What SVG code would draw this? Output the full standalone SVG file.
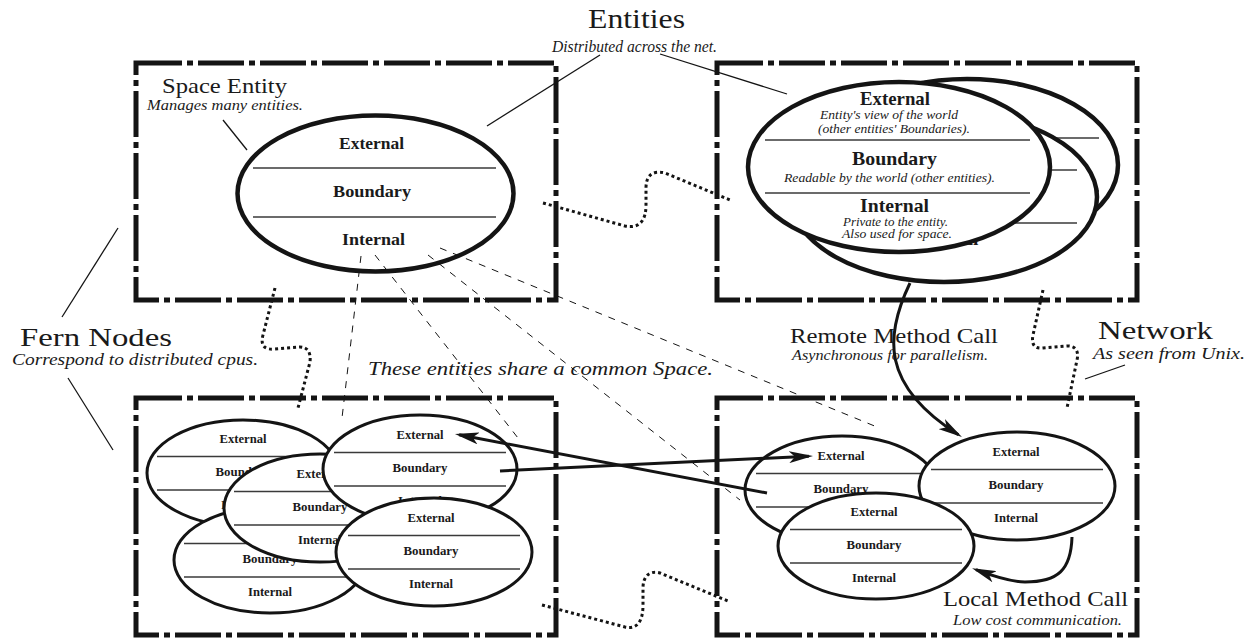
<svg xmlns="http://www.w3.org/2000/svg" width="1259" height="640" viewBox="0 0 1259 640">
<style>
text{font-family:"Liberation Serif","Times New Roman",serif;fill:#1a1a1a}
.i{font-style:italic}
.bd{font-weight:bold}
.box{fill:none;stroke:#141414;stroke-width:5;stroke-dasharray:46 5 6 5}
.eb{fill:#fff;stroke:#141414;stroke-width:4.5}
.es{fill:#fff;stroke:#141414;stroke-width:3}
.sep{stroke:#3a3a3a;stroke-width:1.4}
.lead{stroke:#141414;stroke-width:1.3;fill:none}
.dot{fill:none;stroke:#141414;stroke-width:3;stroke-dasharray:3 3}
.thin{fill:none;stroke:#141414;stroke-width:1;stroke-dasharray:7 7}
.arr{fill:none;stroke:#141414;stroke-width:3;marker-end:url(#ah)}
.sm{font-size:13px;font-weight:bold;text-anchor:middle}
</style>
<defs>
<marker id="ah" viewBox="0 0 20 10" refX="16.5" refY="5" markerWidth="24" markerHeight="12" orient="auto" markerUnits="userSpaceOnUse"><path d="M0,0 L20,5 L0,10 L5,5 Z" fill="#141414"/></marker>
</defs>
<rect width="1259" height="640" fill="#fff"/>

<g id="labels">
<text x="588" y="28" font-size="28" textLength="97" lengthAdjust="spacingAndGlyphs">Entities</text>
<text class="i" x="552" y="52" font-size="16" textLength="165" lengthAdjust="spacingAndGlyphs">Distributed across the net.</text>
<text x="20" y="346" font-size="26" textLength="152" lengthAdjust="spacingAndGlyphs">Fern Nodes</text>
<text class="i" x="12" y="365" font-size="16" textLength="246" lengthAdjust="spacingAndGlyphs">Correspond to distributed cpus.</text>
<text class="i" x="368" y="375" font-size="19" textLength="345" lengthAdjust="spacingAndGlyphs">These entities share a common Space.</text>
<text x="790" y="343" font-size="21" textLength="208" lengthAdjust="spacingAndGlyphs">Remote Method Call</text>
<text class="i" x="792" y="360" font-size="14" textLength="196" lengthAdjust="spacingAndGlyphs">Asynchronous for parallelism.</text>
<text x="1098" y="339" font-size="26" textLength="115" lengthAdjust="spacingAndGlyphs">Network</text>
<text class="i" x="1093" y="359" font-size="16" textLength="152" lengthAdjust="spacingAndGlyphs">As seen from Unix.</text>
</g>

<g id="node-top-left">
<rect class="box" x="136" y="63" width="420" height="237"/>
<text x="162" y="93" font-size="22" textLength="125" lengthAdjust="spacingAndGlyphs">Space Entity</text>
<text class="i" x="147" y="110" font-size="15" textLength="156" lengthAdjust="spacingAndGlyphs">Manages many entities.</text>
<g id="space-entity">
<ellipse class="eb" cx="375.5" cy="193.5" rx="138" ry="78"/>
<line class="sep" x1="253" y1="168" x2="496" y2="168"/>
<line class="sep" x1="253" y1="217" x2="496" y2="217"/>
<text class="bd" x="339" y="149" font-size="17" textLength="65" lengthAdjust="spacingAndGlyphs">External</text>
<text class="bd" x="333" y="197" font-size="17" textLength="78" lengthAdjust="spacingAndGlyphs">Boundary</text>
<text class="bd" x="342" y="245" font-size="17" textLength="63" lengthAdjust="spacingAndGlyphs">Internal</text>
</g>
</g>

<g id="node-top-right">
<rect class="box" x="717" y="63" width="420" height="237"/>
<g id="entity-back">
<ellipse class="eb" cx="967" cy="165" rx="151" ry="86"/>
<line class="sep" x1="835" y1="138" x2="1099" y2="138"/>
<line class="sep" x1="835" y1="191" x2="1099" y2="191"/>
</g>
<g id="entity-middle">
<ellipse class="eb" cx="944" cy="197" rx="153" ry="85"/>
<line class="sep" x1="812" y1="170" x2="1077" y2="170"/>
<line class="sep" x1="812" y1="223" x2="1077" y2="223"/>
<text class="bd" x="944" y="245" font-size="19" text-anchor="middle" textLength="69" lengthAdjust="spacingAndGlyphs">Internal</text>
</g>
<g id="entity-front">
<ellipse class="eb" cx="899" cy="167" rx="151" ry="85"/>
<line class="sep" x1="765" y1="140" x2="1030" y2="140"/>
<line class="sep" x1="765" y1="193" x2="1030" y2="193"/>
<text class="bd" x="860" y="105" font-size="19" textLength="70" lengthAdjust="spacingAndGlyphs">External</text>
<text class="i" x="820" y="119" font-size="12" textLength="138" lengthAdjust="spacingAndGlyphs">Entity's view of the world</text>
<text class="i" x="818" y="133" font-size="12" textLength="152" lengthAdjust="spacingAndGlyphs">(other entities' Boundaries).</text>
<text class="bd" x="852" y="165" font-size="19" textLength="85" lengthAdjust="spacingAndGlyphs">Boundary</text>
<text class="i" x="784" y="182" font-size="12" textLength="211" lengthAdjust="spacingAndGlyphs">Readable by the world (other entities).</text>
<text class="bd" x="860" y="212" font-size="19" textLength="69" lengthAdjust="spacingAndGlyphs">Internal</text>
<text class="i" x="843" y="226" font-size="12" textLength="105" lengthAdjust="spacingAndGlyphs">Private to the entity.</text>
<text class="i" x="842" y="238" font-size="12" textLength="110" lengthAdjust="spacingAndGlyphs">Also used for space.</text>
</g>
</g>

<g id="node-bottom-left">
<rect class="box" x="136" y="398" width="420" height="237"/>
<g id="ent-a">
<ellipse class="es" cx="243" cy="473" rx="96" ry="53"/>
<line class="sep" x1="157" y1="456.5" x2="329" y2="456.5"/>
<line class="sep" x1="157" y1="490" x2="329" y2="490"/>
<text class="sm" x="243" y="443" textLength="47" lengthAdjust="spacingAndGlyphs">External</text>
<text class="sm" x="243" y="476" textLength="55" lengthAdjust="spacingAndGlyphs">Boundary</text>
<text class="sm" x="243" y="509" textLength="44" lengthAdjust="spacingAndGlyphs">Internal</text>
</g>
<g id="ent-c">
<ellipse class="es" cx="270" cy="560" rx="96" ry="53"/>
<line class="sep" x1="184" y1="543.5" x2="356" y2="543.5"/>
<line class="sep" x1="184" y1="577" x2="356" y2="577"/>
<text class="sm" x="270" y="563" textLength="55" lengthAdjust="spacingAndGlyphs">Boundary</text>
<text class="sm" x="270" y="596" textLength="44" lengthAdjust="spacingAndGlyphs">Internal</text>
</g>
<g id="ent-b">
<ellipse class="es" cx="320" cy="508" rx="96" ry="54"/>
<line class="sep" x1="234" y1="491.5" x2="406" y2="491.5"/>
<line class="sep" x1="234" y1="525" x2="406" y2="525"/>
<text class="sm" x="320" y="478" textLength="47" lengthAdjust="spacingAndGlyphs">External</text>
<text class="sm" x="320" y="511" textLength="55" lengthAdjust="spacingAndGlyphs">Boundary</text>
<text class="sm" x="320" y="544" textLength="44" lengthAdjust="spacingAndGlyphs">Internal</text>
</g>
<g id="ent-d">
<ellipse class="es" cx="420" cy="469" rx="97" ry="54"/>
<line class="sep" x1="334" y1="452.5" x2="506" y2="452.5"/>
<line class="sep" x1="334" y1="486" x2="506" y2="486"/>
<text class="sm" x="420" y="439" textLength="47" lengthAdjust="spacingAndGlyphs">External</text>
<text class="sm" x="420" y="472" textLength="55" lengthAdjust="spacingAndGlyphs">Boundary</text>
<text class="sm" x="420" y="505" textLength="44" lengthAdjust="spacingAndGlyphs">Internal</text>
</g>
<g id="ent-e">
<ellipse class="es" cx="434" cy="552" rx="98" ry="54"/>
<line class="sep" x1="348" y1="535.5" x2="520" y2="535.5"/>
<line class="sep" x1="348" y1="569" x2="520" y2="569"/>
<text class="sm" x="431" y="522" textLength="47" lengthAdjust="spacingAndGlyphs">External</text>
<text class="sm" x="431" y="555" textLength="55" lengthAdjust="spacingAndGlyphs">Boundary</text>
<text class="sm" x="431" y="588" textLength="44" lengthAdjust="spacingAndGlyphs">Internal</text>
</g>
</g>

<g id="node-bottom-right">
<rect class="box" x="717" y="398" width="420" height="237"/>
<text x="943" y="606" font-size="21" textLength="185" lengthAdjust="spacingAndGlyphs">Local Method Call</text>
<text class="i" x="953" y="625" font-size="14" textLength="169" lengthAdjust="spacingAndGlyphs">Low cost communication.</text>
<g id="ent-f">
<ellipse class="es" cx="842" cy="490" rx="97" ry="54"/>
<line class="sep" x1="756" y1="473.5" x2="928" y2="473.5"/>
<line class="sep" x1="756" y1="507" x2="928" y2="507"/>
<text class="sm" x="841" y="460" textLength="47" lengthAdjust="spacingAndGlyphs">External</text>
<text class="sm" x="841" y="493" textLength="55" lengthAdjust="spacingAndGlyphs">Boundary</text>
</g>
<g id="ent-g">
<ellipse class="es" cx="1017" cy="486" rx="98" ry="54"/>
<line class="sep" x1="931" y1="469.5" x2="1103" y2="469.5"/>
<line class="sep" x1="931" y1="503" x2="1103" y2="503"/>
<text class="sm" x="1016" y="456" textLength="47" lengthAdjust="spacingAndGlyphs">External</text>
<text class="sm" x="1016" y="489" textLength="55" lengthAdjust="spacingAndGlyphs">Boundary</text>
<text class="sm" x="1016" y="522" textLength="44" lengthAdjust="spacingAndGlyphs">Internal</text>
</g>
<g id="ent-h">
<ellipse class="es" cx="876" cy="546" rx="98" ry="53"/>
<line class="sep" x1="790" y1="529.5" x2="962" y2="529.5"/>
<line class="sep" x1="790" y1="563" x2="962" y2="563"/>
<text class="sm" x="874" y="516" textLength="47" lengthAdjust="spacingAndGlyphs">External</text>
<text class="sm" x="874" y="549" textLength="55" lengthAdjust="spacingAndGlyphs">Boundary</text>
<text class="sm" x="874" y="582" textLength="44" lengthAdjust="spacingAndGlyphs">Internal</text>
</g>
</g>

<g id="connectors">
<line class="lead" x1="600" y1="55" x2="487" y2="126"/>
<line class="lead" x1="660" y1="54" x2="787" y2="94"/>
<line class="lead" x1="223" y1="120" x2="247" y2="150"/>
<line class="lead" x1="118" y1="228" x2="62" y2="317"/>
<line class="lead" x1="68" y1="378" x2="113" y2="450"/>
<line class="lead" x1="1125" y1="365" x2="1085" y2="379"/>
<path class="dot" d="M543,203 L625,226 C640,229 646,220 646,205 L646,188 C646,176 652,170 665,173 L730,200"/>
<path class="dot" d="M542,605 L625,627 C638,630 643,620 643,605 L643,588 C643,576 650,570 660,573 L728,601"/>
<path class="dot" d="M275,288 L263,335 C260,346 265,350 275,349 L300,347 C308,347 311,353 310,362 L298,408"/>
<path class="dot" d="M1043,290 L1033,335 C1031,345 1035,349 1043,348 L1068,346 C1076,346 1079,352 1077,360 L1067,408"/>
<line class="thin" x1="361" y1="256" x2="342" y2="418"/>
<line class="thin" x1="375" y1="255" x2="518" y2="438"/>
<line class="thin" x1="428" y1="255" x2="740" y2="500"/>
<line class="thin" x1="440" y1="248" x2="877" y2="427"/>
<path class="arr" d="M910,283 C885,335 880,385 958.4,434.7"/>
<path class="arr" d="M1072,537 C1071,570 1058,582 1025,582 C1010,582 990,575 976,569.7"/>
<path class="arr" d="M767,493 L459.1,434.8"/>
<path class="arr" d="M500,471 L808.8,456.2"/>
</g>
</svg>
